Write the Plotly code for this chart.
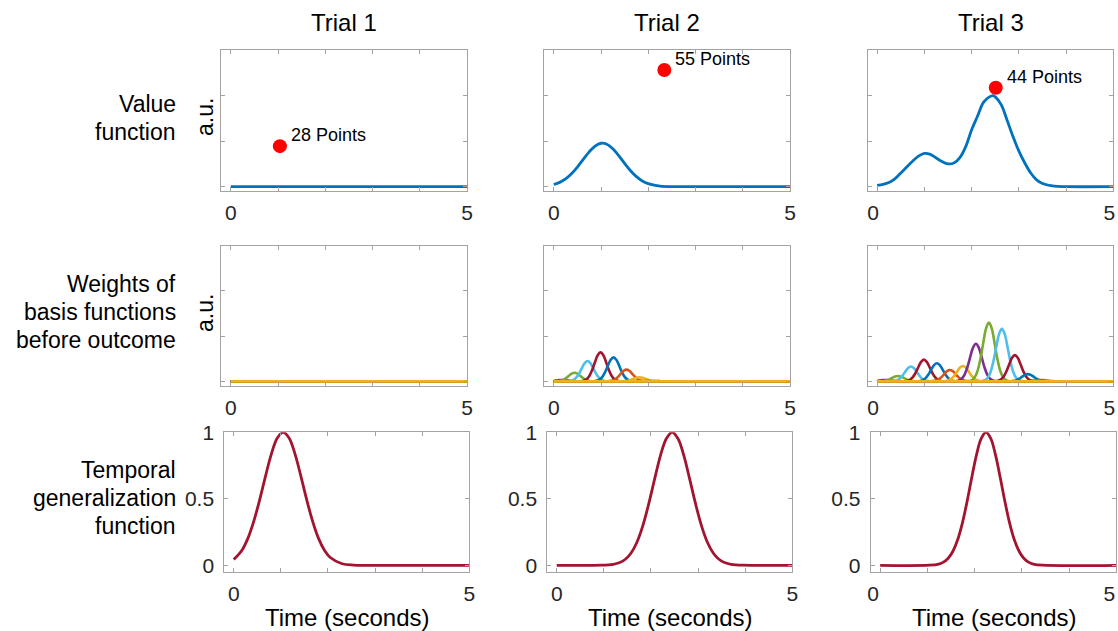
import plotly.graph_objects as go

# ---------------------------------------------------------------- data
TRIAL_TITLES = ["Trial 1", "Trial 2", "Trial 3"]
ROW_LABEL_LINES = [
    ["Value", "function"],
    ["Weights of", "basis functions", "before outcome"],
    ["Temporal", "generalization", "function"],
]
X_TICK_VALUES = [0, 1, 2, 3, 4, 5]
X_TICK_TEXT = ["0", "", "", "", "", "5"]
GEN_TICK_VALUES = [0, 0.5, 1]
GEN_TICK_TEXT = ["0", "0.5", "1"]

# value function (time in s, a.u.)
VALUE_T1_X = [0, 5]
VALUE_T1_Y = [0, 0]
VALUE_T2_X = [0, 0.125, 0.25, 0.375, 0.5, 0.625, 0.75, 0.875, 1.0, 1.125, 1.25,
              1.375, 1.5, 1.625, 1.75, 1.875, 2.0, 2.125, 2.25, 2.5, 2.75, 5]
VALUE_T2_Y = [0.048, 0.094, 0.171, 0.283, 0.43, 0.60, 0.765, 0.892, 0.953, 0.931,
              0.833, 0.682, 0.51, 0.35, 0.22, 0.126, 0.066, 0.032, 0.014, 0.002, 0, 0]
VALUE_T3_X = [0, 0.125, 0.25, 0.375, 0.5, 0.625, 0.75, 0.875, 1.0, 1.125, 1.25,
              1.375, 1.5, 1.625, 1.75, 1.875, 2.0, 2.125, 2.25, 2.375, 2.45, 2.5,
              2.625, 2.75, 2.875, 3.0, 3.125, 3.25, 3.375, 3.5, 3.75, 4.0, 5]
VALUE_T3_Y = [0.03, 0.05, 0.09, 0.17, 0.30, 0.43, 0.56, 0.67, 0.73, 0.71, 0.63,
              0.55, 0.50, 0.52, 0.64, 0.88, 1.25, 1.55, 1.85, 1.97, 2.00, 1.97,
              1.80, 1.46, 1.10, 0.78, 0.52, 0.30, 0.15, 0.07, 0.01, 0, 0]

# reward outcome of each trial
OUTCOME_TIME = [1.04, 2.34, 2.51]
OUTCOME_LEVEL = [0.89, 2.56, 2.17]
OUTCOME_POINTS = [28, 55, 44]

# temporal basis functions: centres (s) and weights per trial
BASIS_CENTERS = [-0.66, -0.385, -0.11, 0.165, 0.44, 0.715, 0.99, 1.265, 1.54,
                 1.815, 2.09, 2.365, 2.64, 2.915, 3.19, 3.465, 3.74, 4.015,
                 4.29, 4.565, 4.84, 5.115, 5.39, 5.665]
WEIGHTS_T1 = [0, 0, 0, 0, 0, 0, 0, 0, 0, 0, 0, 0,
              0, 0, 0, 0, 0, 0, 0, 0, 0, 0, 0, 0]
WEIGHTS_T2 = [0, 0, 0, 0.03, 0.19, 0.45, 0.64, 0.53, 0.26, 0.09, 0.01, 0,
              0, 0, 0, 0, 0, 0, 0, 0, 0, 0, 0, 0]
WEIGHTS_T3 = [0, 0, 0, 0.03, 0.12, 0.33, 0.48, 0.40, 0.25, 0.34, 0.83, 1.30,
              1.16, 0.58, 0.16, 0.03, 0, 0, 0, 0, 0, 0, 0, 0]
# unit basis-function profile, sampled around its centre
BUMP_OFFSETS = [-0.48, -0.42, -0.36, -0.30, -0.24, -0.18, -0.12, -0.06, 0,
                0.06, 0.12, 0.18, 0.24, 0.30, 0.36, 0.42, 0.48]
BUMP_PROFILE = [0, 0.006, 0.023, 0.07, 0.18, 0.38, 0.65, 0.90, 1,
                0.90, 0.65, 0.38, 0.18, 0.07, 0.023, 0.006, 0]

# temporal generalization function (time in s, normalised)
GEN_T1_X = [0, 0.175, 0.3, 0.425, 0.55, 0.675, 0.8, 0.925, 1.05, 1.175, 1.3,
            1.425, 1.55, 1.675, 1.8, 1.925, 2.05, 2.3, 2.55, 2.8, 5]
GEN_T1_Y = [0.044, 0.114, 0.203, 0.331, 0.492, 0.671, 0.838, 0.957, 1.0, 0.957,
            0.838, 0.671, 0.492, 0.331, 0.203, 0.114, 0.059, 0.012, 0.002, 0, 0]
GEN_T2_X = [0, 0.95, 1.2, 1.325, 1.45, 1.575, 1.7, 1.825, 1.95, 2.075, 2.2, 2.325,
            2.45, 2.575, 2.7, 2.825, 2.95, 3.075, 3.2, 3.325, 3.45, 3.575, 3.7,
            3.95, 5]
GEN_T2_Y = [0, 0.001, 0.008, 0.019, 0.044, 0.091, 0.172, 0.295, 0.458, 0.644,
            0.823, 0.952, 1.0, 0.952, 0.823, 0.644, 0.458, 0.295, 0.172, 0.091,
            0.044, 0.019, 0.008, 0.001, 0]
GEN_T3_X = [0, 1.04, 1.24, 1.34, 1.44, 1.54, 1.64, 1.74, 1.84, 1.94, 2.04, 2.14,
            2.24, 2.34, 2.44, 2.54, 2.64, 2.74, 2.84, 2.94, 3.04, 3.14, 3.24,
            3.44, 5]
GEN_T3_Y = [0, 0.001, 0.010, 0.024, 0.053, 0.106, 0.192, 0.318, 0.480, 0.662,
            0.832, 0.955, 1.0, 0.955, 0.832, 0.662, 0.480, 0.318, 0.192, 0.106,
            0.053, 0.024, 0.010, 0.001, 0]

# ---------------------------------------------------------------- style
W, H = 1118, 631
FONT = "Liberation Sans, Arial, Helvetica, sans-serif"
AXIS_GRAY = "#a3a3a3"
TICK_TEXT = "#262626"
BLUE = "#0072BD"
DARK_RED = "#A2142F"
MATLAB_ORDER = ["#0072BD", "#D95319", "#EDB120", "#7E2F8E",
                "#77AC30", "#4DBEEE", "#A2142F"]
LABEL_SIZE = 23

# panel boxes in pixels: (left, right) per column and (top, bottom) per row
COLS_TOP = [(221.3, 467.0), (544.3, 790.0), (867.7, 1113.4)]
COLS_BOTTOM = [(224.3, 469.3), (547.3, 792.3), (870.7, 1116.4)]
ROWS = [(50.0, 191.0), (245.5, 385.7), (432.3, 572.0)]
ROW_LABEL_LINE_Y = [[104, 132], [284, 312, 340], [470, 498, 526]]
AU_Y = [117, 313]
# small leftward nudge of the last column's x tick labels so the "5" stays on the page
EDGE_LABEL_SHIFT = [-4, -4, -7]


def xdom(px):
    return [px[0] / W, px[1] / W]


def ydom(py):
    return [1 - py[1] / H, 1 - py[0] / H]


def paper_y(py):
    return 1 - py / H


fig = go.Figure()

value_x = [VALUE_T1_X, VALUE_T2_X, VALUE_T3_X]
value_y = [VALUE_T1_Y, VALUE_T2_Y, VALUE_T3_Y]
weights = [WEIGHTS_T1, WEIGHTS_T2, WEIGHTS_T3]
gen_x = [GEN_T1_X, GEN_T2_X, GEN_T3_X]
gen_y = [GEN_T1_Y, GEN_T2_Y, GEN_T3_Y]

layout_axes = {}
annotations = []

for r in range(3):
    for c in range(3):
        k = r * 3 + c + 1
        xa = "x" if k == 1 else f"x{k}"
        ya = "y" if k == 1 else f"y{k}"
        cols = COLS_BOTTOM if r == 2 else COLS_TOP
        common = dict(
            showline=True, linecolor=AXIS_GRAY, linewidth=1, mirror="ticks",
            ticks="inside", ticklen=4, tickcolor=AXIS_GRAY, tickwidth=1,
            showgrid=False, zeroline=False, fixedrange=True, automargin=False,
            ticklabeloverflow="allow",
            tickfont=dict(family=FONT, size=21, color=TICK_TEXT),
        )
        layout_axes["xaxis" if k == 1 else f"xaxis{k}"] = dict(
            common, domain=xdom(cols[c]), anchor=ya, range=[-0.2, 5],
            tickmode="array", tickvals=X_TICK_VALUES, ticktext=X_TICK_TEXT,
            ticklabelstandoff=3,
            ticklabelshift=EDGE_LABEL_SHIFT[r] if c == 2 else 0,
        )
        if r < 2:
            yax = dict(common, domain=ydom(ROWS[r]), anchor=xa, range=[-0.095, 3],
                       tickmode="array", tickvals=[0, 1, 2, 3],
                       ticktext=["", "", "", ""])
        else:
            yax = dict(common, domain=ydom(ROWS[r]), anchor=xa, range=[-0.05, 1],
                       tickmode="array", tickvals=GEN_TICK_VALUES,
                       ticktext=GEN_TICK_TEXT, ticklabelstandoff=5)
        layout_axes["yaxis" if k == 1 else f"yaxis{k}"] = yax

        if r == 0:
            fig.add_trace(go.Scatter(
                x=value_x[c], y=value_y[c], mode="lines", xaxis=xa, yaxis=ya,
                line=dict(color=BLUE, width=2.8, shape="spline", smoothing=1),
                showlegend=False, hoverinfo="skip"))
            fig.add_trace(go.Scatter(
                x=[OUTCOME_TIME[c]], y=[OUTCOME_LEVEL[c]], mode="markers",
                xaxis=xa, yaxis=ya,
                marker=dict(color="#ff0000", size=14, line=dict(width=0)),
                showlegend=False, hoverinfo="skip"))
            annotations.append(dict(
                x=OUTCOME_TIME[c], y=OUTCOME_LEVEL[c], xref=xa, yref=ya,
                text=f"{OUTCOME_POINTS[c]} Points", showarrow=False,
                xanchor="left", yanchor="middle", xshift=9, yshift=11,
                font=dict(family=FONT, size=18, color="black")))
        elif r == 1:
            for j, (ctr, wgt) in enumerate(zip(BASIS_CENTERS, weights[c])):
                xs, ys = [0], [0]
                if wgt > 0:
                    for off, p in zip(BUMP_OFFSETS, BUMP_PROFILE):
                        t = ctr + off
                        if 0 < t < 5:
                            xs.append(t)
                            ys.append(wgt * p)
                xs.append(5)
                ys.append(0)
                fig.add_trace(go.Scatter(
                    x=xs, y=ys, mode="lines", xaxis=xa, yaxis=ya,
                    line=dict(color=MATLAB_ORDER[j % 7], width=2.6,
                              shape="spline", smoothing=1),
                    showlegend=False, hoverinfo="skip"))
        else:
            fig.add_trace(go.Scatter(
                x=gen_x[c], y=gen_y[c], mode="lines", xaxis=xa, yaxis=ya,
                line=dict(color=DARK_RED, width=2.8, shape="spline", smoothing=1),
                showlegend=False, hoverinfo="skip"))

# column titles and x-axis titles
for c in range(3):
    cx = (COLS_TOP[c][0] + COLS_TOP[c][1]) / 2 / W
    annotations.append(dict(
        x=cx, y=paper_y(22), xref="paper", yref="paper", text=TRIAL_TITLES[c],
        showarrow=False, xanchor="center", yanchor="middle",
        font=dict(family=FONT, size=24, color="black")))
    bx = (COLS_BOTTOM[c][0] + COLS_BOTTOM[c][1]) / 2 / W
    annotations.append(dict(
        x=bx, y=paper_y(617), xref="paper", yref="paper", text="Time (seconds)",
        showarrow=False, xanchor="center", yanchor="middle",
        font=dict(family=FONT, size=24, color="black")))

# row labels, one annotation per line
for lines, ys in zip(ROW_LABEL_LINES, ROW_LABEL_LINE_Y):
    for txt, py in zip(lines, ys):
        annotations.append(dict(
            x=178 / W, y=paper_y(py), xref="paper", yref="paper", text=txt,
            showarrow=False, xanchor="right", yanchor="middle",
            font=dict(family=FONT, size=LABEL_SIZE, color="black")))

# a.u. labels for the first two rows
for py in AU_Y:
    annotations.append(dict(
        x=205 / W, y=paper_y(py), xref="paper", yref="paper",
        text="a.u.", textangle=-90, showarrow=False,
        xanchor="center", yanchor="middle",
        font=dict(family=FONT, size=LABEL_SIZE, color="black")))

fig.update_layout(
    template="none",
    width=W, height=H, autosize=False,
    margin=dict(l=0, r=0, t=0, b=0, pad=0),
    paper_bgcolor="white", plot_bgcolor="white",
    font=dict(family=FONT, color="black"),
    showlegend=False, annotations=annotations,
    **layout_axes,
)

fig.write_html("out.html", config={"displayModeBar": False})
